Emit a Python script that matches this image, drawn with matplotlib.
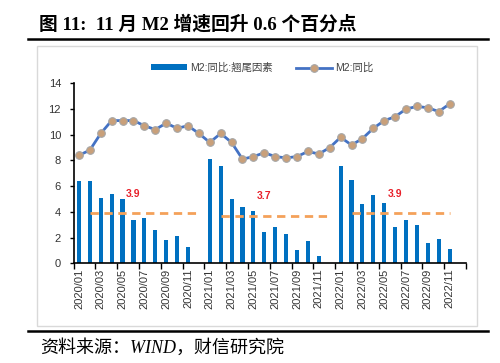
import numpy as np
import matplotlib
matplotlib.use("Agg")
import matplotlib.pyplot as plt
from matplotlib.patches import Rectangle
from matplotlib.lines import Line2D

plt.rcParams['font.family'] = ['Liberation Sans', 'Noto Sans CJK SC']

# 2020/01 .. 2022/12
months = [f"{y}/{m:02d}" for y in (2020, 2021, 2022) for m in range(1, 13)]

# M2 同比：翘尾因素 (bars)
tail_2020 = [6.4, 6.4, 5.1, 5.4, 5.0, 3.4, 3.5, 2.6, 1.8, 2.1, 1.3, np.nan]
tail_2021 = [8.1, 7.6, 5.0, 4.4, 4.1, 2.4, 2.8, 2.3, 1.0, 1.7, 0.6, np.nan]
tail_2022 = [7.6, 6.5, 4.6, 5.3, 4.7, 2.8, 3.4, 3.0, 1.6, 1.9, 1.1, np.nan]
tail = tail_2020 + tail_2021 + tail_2022

# M2 同比 (line)
m2_2020 = [8.4, 8.8, 10.1, 11.1, 11.1, 11.1, 10.7, 10.4, 10.9, 10.5, 10.7, 10.1]
m2_2021 = [9.4, 10.1, 9.4, 8.1, 8.3, 8.6, 8.3, 8.2, 8.3, 8.7, 8.5, 9.0]
m2_2022 = [9.8, 9.2, 9.7, 10.5, 11.1, 11.4, 12.0, 12.2, 12.1, 11.8, 12.4, np.nan]
m2 = m2_2020 + m2_2021 + m2_2022

# average of tail factor per year (dashed)
avg_vals = [3.9, 3.7, 3.9]
avg = ([np.nan] + [avg_vals[0]] * 11 +
       [np.nan] + [avg_vals[1]] * 11 +
       [np.nan] + [avg_vals[2]] * 10 + [np.nan])
avg_label_idx = [5, 17, 29]

bar_color = '#0070C0'
line_color = '#4472C4'
dash_color = '#F4A15A'

fig = plt.figure(figsize=(5.0, 3.63), dpi=100)
W, H = 500, 363

def fx(px):
    return px / W

def fy(py):
    return 1 - py / H

# frame decorations
fig.add_artist(Line2D([fx(28), fx(488)], [fy(39), fy(39)], color='black', lw=1.8))
fig.add_artist(Rectangle((fx(37), fy(326)), fx(477) - fx(37), fy(46) - fy(326),
                         fill=False, edgecolor='#D9D9D9', lw=1.0))
fig.add_artist(Line2D([fx(28), fx(488)], [fy(331), fy(331)], color='black', lw=1.8))

fig.text(fx(39), fy(24), "图 11:  11 月 M2 增速回升 0.6 个百分点", ha='left', va='center',
         fontsize=13.5, fontweight='bold', family=['Liberation Serif', 'Noto Sans CJK SC'])
fig.text(fx(40), fy(348), "资料来源：WIND，财信研究院", ha='left', va='center',
         fontsize=13, style='italic', family=['Liberation Serif', 'Noto Sans CJK SC'])

ax = fig.add_axes([fx(73.5), fy(263.3), fx(466) - fx(73.5), fy(83.3) - fy(263.3)])
x = np.arange(len(months))

bars = ax.bar(x, tail, width=0.38, color=bar_color, label='M2:同比:翘尾因素', zorder=2)
line, = ax.plot(x, m2, color=line_color, lw=2, marker='o', markersize=5.5,
                markerfacecolor='#C9A07A', markeredgecolor='#A6A6A6', markeredgewidth=0.8,
                label='M2:同比', zorder=3)
ax.plot(x, avg, color=dash_color, lw=2, dashes=(3, 2), zorder=2)
for i in avg_label_idx:
    ax.text(x[i], avg[i] + 1.5, f"{avg[i]:.1f}", color='#E8202A', fontsize=7.5,
            fontweight='bold', ha='center', va='center')

ax.set_xlim(-0.5, len(months) - 0.5)
ax.set_ylim(0, 14)
ax.set_yticks(np.arange(0, 15, 2))
ax.set_xticks(x[::2])
ax.set_xticklabels(months[::2], rotation=90)
ax.set_xticks(np.arange(-0.5, len(months), 2), minor=True)
ax.tick_params(axis='x', which='major', length=0, labelsize=8, pad=4, labelcolor='#333333')
ax.tick_params(axis='x', which='minor', length=4, width=1, direction='out')
ax.tick_params(axis='y', length=3, width=1, direction='out', labelsize=8, pad=6,
               labelcolor='#333333')
for s in ('top', 'right'):
    ax.spines[s].set_visible(False)
for s in ('left', 'bottom'):
    ax.spines[s].set_linewidth(1.2)

fig.legend(handles=[bars, line], labels=['M2:同比:翘尾因素', 'M2:同比'],
           loc='center', bbox_to_anchor=(fx(262), fy(68)), ncol=2, frameon=False,
           fontsize=7.5, handlelength=3.5, handleheight=0.5, columnspacing=2.2,
           handletextpad=0.3, labelcolor='#404040')

fig.savefig('out.png', dpi=100)
